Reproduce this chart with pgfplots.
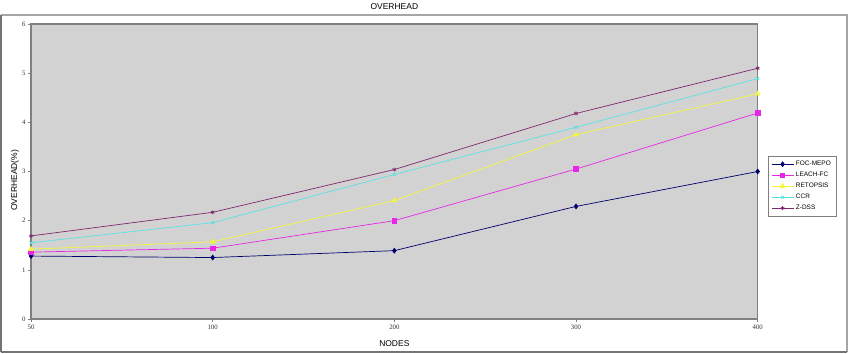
\documentclass[border=0pt]{standalone}
\usepackage{pgfplots}
\pgfplotsset{compat=1.18}
\usepackage{fontspec}
\setmainfont{Liberation Sans}
\newfontfamily\tickfont{Liberation Serif}
\definecolor{plotbg}{RGB}{210,210,210}
\definecolor{axisgray}{RGB}{128,128,128}
\definecolor{cFOC}{RGB}{0,0,110}
\definecolor{cLEACH}{RGB}{230,40,230}
\definecolor{cRET}{RGB}{245,245,60}
\definecolor{cCCR}{RGB}{90,225,225}
\definecolor{cZDSS}{RGB}{128,40,110}
\begin{document}
\begin{tikzpicture}
\path[use as bounding box,fill=white] (-31bp,-35bp) rectangle (819bp,319bp);
\draw[gray!70,line width=1.2bp] (-30bp,304bp) -- (816bp,304bp) -- (816bp,-33bp);
\draw[gray!90!black,line width=1.5bp] (-30bp,-33bp) -- (-30bp,304bp);
\draw[gray!90!black,line width=1.5bp] (-30bp,-33bp) -- (816bp,-33bp);
\begin{axis}[
  at={(0bp,0bp)}, anchor=south west,
  scale only axis,
  width=726.7bp, height=295bp,
  xmin=0, xmax=4, ymin=0, ymax=6,
  xtick={0,1,2,3,4},
  xticklabels={50,100,200,300,400},
  ytick={0,1,2,3,4,5,6},
  xtick pos=left, ytick pos=left,
  axis background/.style={fill=plotbg},
  axis line style={axisgray,line width=1.5bp},
  tick style={axisgray,line width=0.6bp},
  tick align=outside,
  major tick length=3bp,
  /pgf/number format/assume math mode=true,
  tick label style={font=\tickfont\fontsize{6.8}{7}\selectfont,text=black!80},
  xticklabel style={yshift=1bp},
  yticklabel style={xshift=1bp},
  title={OVERHEAD},
  title style={font=\fontsize{8.5}{10}\selectfont,at={(0.5,1.0)},anchor=base,yshift=9bp},
  xlabel={NODES},
  xlabel style={font=\fontsize{8.5}{10}\selectfont,at={(0.5,0)},anchor=base,yshift=-27bp},
  ylabel={OVERHEAD(\%)},
  ylabel style={font=\fontsize{8.5}{10}\selectfont,at={(0,0.47)},anchor=base,xshift=0bp,yshift=14bp},
  legend style={at={(rel axis cs:1.0142,0.5525)},anchor=north west,draw=axisgray,fill=white,
    font=\fontsize{6.5}{7}\selectfont,row sep=1bp,inner xsep=3bp,inner ysep=3bp},
  legend cell align=left,
  legend image code/.code={\draw[mark repeat=2,mark phase=2,#1] plot coordinates {(0bp,0bp) (11bp,0bp) (22bp,0bp)};},
  every axis plot/.append style={line width=0.7bp},
]
\addplot[cFOC,mark=diamond*,mark size=2.4bp] coordinates {(0,1.28) (1,1.25) (2,1.39) (3,2.29) (4,3.00)};
\addlegendentry{FOC-MEPO}
\addplot[cLEACH,mark=square*,mark size=2.2bp] coordinates {(0,1.36) (1,1.44) (2,2.00) (3,3.05) (4,4.19)};
\addlegendentry{LEACH-FC}
\addplot[cRET,mark=triangle*,mark size=2.6bp] coordinates {(0,1.42) (1,1.57) (2,2.41) (3,3.75) (4,4.58)};
\addlegendentry{RETOPSIS}
\addplot[cCCR,mark=x,mark size=2.2bp] coordinates {(0,1.55) (1,1.96) (2,2.94) (3,3.90) (4,4.89)};
\addlegendentry{CCR}
\addplot[cZDSS,mark=asterisk,mark size=2bp] coordinates {(0,1.69) (1,2.17) (2,3.04) (3,4.18) (4,5.10)};
\addlegendentry{Z-DSS}
\end{axis}
\end{tikzpicture}
\end{document}
